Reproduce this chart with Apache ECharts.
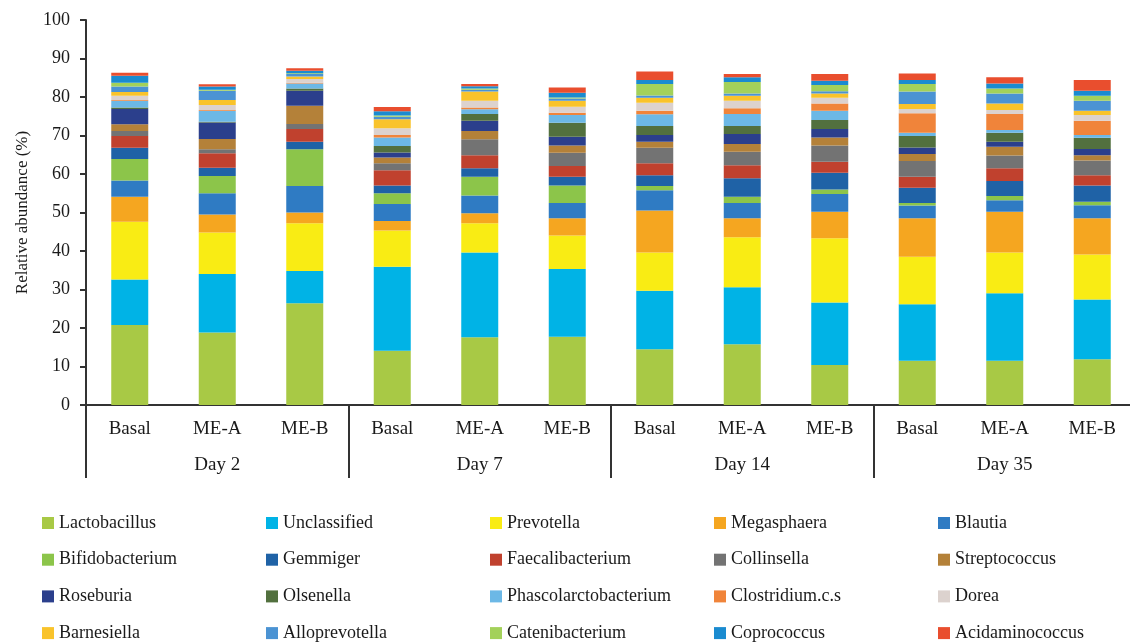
<!DOCTYPE html>
<html>
<head>
    <meta charset='utf-8' />
    <title>Relative abundance</title>
    <script src="https://cdn.jsdelivr.net/npm/echarts@6/dist/echarts.min.js"></script>
</head>
<body style='margin:0;width:1130px;height:644px;background:#fff;'>
<div id='bar' style='width:1130px;height:644px;'></div>

<script type='text/javascript'>
    // categories
    var groups = ['Basal', 'ME-A', 'ME-B', 'Basal', 'ME-A', 'ME-B', 'Basal', 'ME-A', 'ME-B', 'Basal', 'ME-A', 'ME-B'];
    var days = ['Day 2', 'Day 7', 'Day 14', 'Day 35'];

    // relative abundance (%) per genus, one value per bar
    var lactobacillus = [20.8, 18.8, 26.4, 14.1, 17.6, 17.7, 14.5, 15.8, 10.4, 11.5, 11.5, 11.9];
    var unclassified = [11.8, 15.2, 8.4, 21.8, 22.0, 17.6, 15.2, 14.8, 16.2, 14.7, 17.5, 15.5];
    var prevotella = [15.0, 10.8, 12.4, 9.4, 7.6, 8.7, 9.9, 13.0, 16.7, 12.3, 10.6, 11.7];
    var megasphaera = [6.5, 4.7, 2.8, 2.5, 2.6, 4.5, 10.9, 4.9, 6.9, 10.0, 10.6, 9.4];
    var blautia = [4.2, 5.5, 6.9, 4.4, 4.6, 4.0, 5.3, 4.0, 4.6, 3.3, 3.0, 3.4];
    var bifidobacterium = [5.6, 4.5, 9.5, 2.8, 4.9, 4.5, 1.1, 1.6, 1.2, 0.7, 1.1, 0.9];
    var gemmiger = [2.9, 2.1, 2.0, 2.0, 2.2, 2.3, 2.8, 4.8, 4.3, 3.9, 3.9, 4.2];
    var faecalibacterium = [3.1, 3.8, 3.3, 4.0, 3.4, 2.8, 3.1, 3.4, 2.9, 2.9, 3.3, 2.7];
    var collinsella = [1.3, 1.0, 1.3, 1.8, 4.1, 3.4, 4.0, 3.5, 4.2, 4.1, 3.3, 3.8];
    var streptococcus = [1.7, 2.7, 4.7, 1.5, 2.2, 1.9, 1.6, 2.0, 2.1, 1.8, 2.3, 1.4];
    var roseburia = [4.0, 4.3, 3.9, 1.3, 2.6, 2.3, 1.7, 2.6, 2.2, 1.7, 1.3, 1.6];
    var olsenella = [0.4, 0.2, 0.6, 1.7, 1.8, 3.6, 2.4, 2.1, 2.3, 3.0, 2.3, 2.9];
    var phascolarctobacterium = [1.7, 2.8, 1.3, 2.2, 1.2, 2.0, 3.0, 3.1, 2.4, 0.8, 0.7, 0.7];
    var clostridium = [0.2, 0.2, 0.2, 0.6, 0.5, 0.6, 0.9, 1.5, 1.9, 5.1, 4.2, 3.7];
    var dorea = [1.1, 1.3, 1.0, 1.8, 1.7, 1.6, 2.1, 1.9, 1.5, 1.1, 1.0, 1.5];
    var barnesiella = [1.0, 1.3, 0.6, 2.3, 2.4, 1.5, 1.3, 1.3, 1.1, 1.3, 1.7, 1.1];
    var alloprevotella = [1.4, 2.4, 0.7, 0.7, 0.5, 0.6, 0.6, 0.6, 0.6, 3.2, 2.6, 2.6];
    var catenibacterium = [1.0, 0.3, 0.2, 0.3, 0.3, 0.3, 3.0, 3.0, 1.6, 2.0, 1.3, 1.3];
    var coprococcus = [1.8, 0.8, 0.6, 1.1, 0.6, 1.2, 1.0, 1.2, 1.1, 1.0, 1.3, 1.3];
    var acidaminococcus = [0.8, 0.6, 0.7, 1.1, 0.6, 1.4, 2.2, 0.9, 1.8, 1.7, 1.6, 2.8];

    var yTicks = [0, 10, 20, 30, 40, 50, 60, 70, 80, 90, 100];

    var genera = [
        ['Lactobacillus', lactobacillus, '#a8c945'],
        ['Unclassified', unclassified, '#00b3e6'],
        ['Prevotella', prevotella, '#f9ec14'],
        ['Megasphaera', megasphaera, '#f5a620'],
        ['Blautia', blautia, '#2f7bc3'],
        ['Bifidobacterium', bifidobacterium, '#8cc54a'],
        ['Gemmiger', gemmiger, '#1f62a6'],
        ['Faecalibacterium', faecalibacterium, '#c0412e'],
        ['Collinsella', collinsella, '#737373'],
        ['Streptococcus', streptococcus, '#b48139'],
        ['Roseburia', roseburia, '#2b3f8c'],
        ['Olsenella', olsenella, '#52703e'],
        ['Phascolarctobacterium', phascolarctobacterium, '#6cb8e6'],
        ['Clostridium.c.s', clostridium, '#f0843a'],
        ['Dorea', dorea, '#dcd2ce'],
        ['Barnesiella', barnesiella, '#f9c32b'],
        ['Alloprevotella', alloprevotella, '#4b93d3'],
        ['Catenibacterium', catenibacterium, '#a3d15a'],
        ['Coprococcus', coprococcus, '#1a8bd0'],
        ['Acidaminococcus', acidaminococcus, '#e94e2e']
    ];

    var font = 'Liberation Serif';

    // legend: 5 columns, 4 rows, filled row by row
    var legendLeft = [37, 261, 485, 709, 933];
    var legends = legendLeft.map(function (x, col) {
        var names = [];
        for (var r = 0; r < 4; r++) names.push(genera[r * 5 + col][0]);
        return {
            orient: 'vertical',
            left: x,
            top: 508,
            height: 200,
            data: names,
            icon: 'rect',
            itemWidth: 12,
            itemHeight: 12,
            itemGap: 16.7,
            selectedMode: false,
            textStyle: { fontFamily: font, fontSize: 18, color: '#1a1a1a', lineHeight: 20 }
        };
    });

    var series = genera.map(function (g) {
        return {
            name: g[0],
            type: 'bar',
            stack: 'all',
            data: g[1],
            barWidth: 37,
            itemStyle: { color: g[2] },
            emphasis: { disabled: true }
        };
    });

    var option = {
        backgroundColor: '#fff',
        animation: false,
        legend: legends,
        grid: { left: 86, width: 1050, top: 20, bottom: 239, containLabel: false, outerBoundsMode: 'none' },
        xAxis: [
            {
                type: 'category',
                position: 'bottom',
                data: groups,
                axisLine: { lineStyle: { color: '#333', width: 2 } },
                axisTick: { show: false },
                axisLabel: { interval: 0, margin: 15, fontFamily: font, fontSize: 19, color: '#1a1a1a' }
            },
            {
                type: 'category',
                position: 'bottom',
                data: days,
                axisLine: { show: false },
                axisTick: { show: true, interval: 0, length: 73, lineStyle: { color: '#333', width: 2 } },
                axisLabel: { interval: 0, margin: 51, fontFamily: font, fontSize: 19, color: '#1a1a1a' }
            }
        ],
        yAxis: {
            type: 'value',
            min: yTicks[0],
            max: yTicks[yTicks.length - 1],
            interval: 10,
            name: 'Relative abundance (%)',
            nameLocation: 'middle',
            nameGap: 55,
            nameTextStyle: { fontFamily: font, fontSize: 17, color: '#1a1a1a' },
            axisLine: { show: true, lineStyle: { color: '#333', width: 2 } },
            axisTick: { show: true, length: 6, lineStyle: { color: '#333', width: 2 } },
            axisLabel: { margin: 16, fontFamily: font, fontSize: 18, color: '#1a1a1a' },
            splitLine: { show: false }
        },
        series: series
    };

    var myChart = echarts.init(document.getElementById('bar'));
    myChart.setOption(option);
</script>
</body>
</html>
